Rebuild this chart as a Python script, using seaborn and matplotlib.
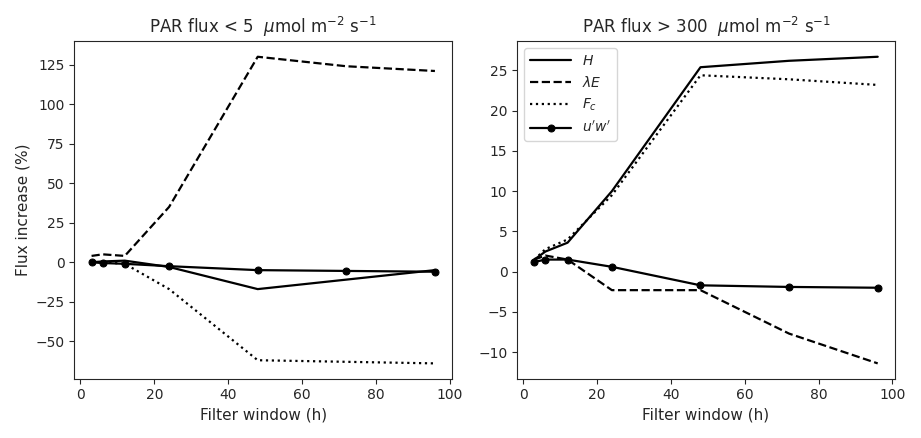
import numpy as np
import pandas as pd
import seaborn as sns
import matplotlib.pyplot as plt

window = [3, 6, 12, 24, 48, 72, 96]

# PAR < 5
low_H = [0, 0.5, 1, -3, -17, -11, -5]
low_LE = [4, 5, 4, 35, 130, 124, 121]
low_Fc = [0, 0, -1, -17, -62, -63, -64]
low_uw = [0, -0.5, -1, -2.5, -5, -5.5, -6]

# PAR > 300
high_H = [1.5, 2.5, 3.6, 10, 25.4, 26.2, 26.7]
high_LE = [1.5, 2.0, 1.5, -2.3, -2.3, -7.7, -11.4]
high_Fc = [1.5, 2.8, 4.0, 9.5, 24.4, 23.9, 23.2]
high_uw = [1.2, 1.5, 1.5, 0.6, -1.7, -1.9, -2.0]

sns.set_style("ticks")
plt.rcParams['font.family'] = ['DejaVu Sans']

fig, axes = plt.subplots(1, 2, figsize=(9.21, 4.38), dpi=100)

def draw(ax, H, LE, Fc, uw):
    sns.lineplot(x=window, y=H, ax=ax, color='k', lw=1.6, label='$H$')
    sns.lineplot(x=window, y=LE, ax=ax, color='k', lw=1.6, ls='--', label=r'$\lambda E$')
    sns.lineplot(x=window, y=Fc, ax=ax, color='k', lw=1.6, ls=':', label='$F_c$')
    sns.lineplot(x=window, y=uw, ax=ax, color='k', lw=1.6, marker='o', markersize=5,
                 markeredgecolor='k', label="$u'w'$")
    ax.set_xticks([0, 20, 40, 60, 80, 100])
    ax.set_xlabel('Filter window (h)', fontsize=11)

draw(axes[0], low_H, low_LE, low_Fc, low_uw)
draw(axes[1], high_H, high_LE, high_Fc, high_uw)

axes[0].set_title(r'PAR flux < 5  $\mu$mol m$^{-2}$ s$^{-1}$', fontsize=12)
axes[1].set_title(r'PAR flux > 300  $\mu$mol m$^{-2}$ s$^{-1}$', fontsize=12)
axes[0].set_ylabel('Flux increase (%)', fontsize=11)
axes[0].set_yticks([-50, -25, 0, 25, 50, 75, 100, 125])
axes[1].set_yticks([-10, -5, 0, 5, 10, 15, 20, 25])
axes[0].get_legend().remove()
axes[1].legend(loc='upper left', handlelength=3)

plt.tight_layout()
plt.savefig('out.png', dpi=100)
